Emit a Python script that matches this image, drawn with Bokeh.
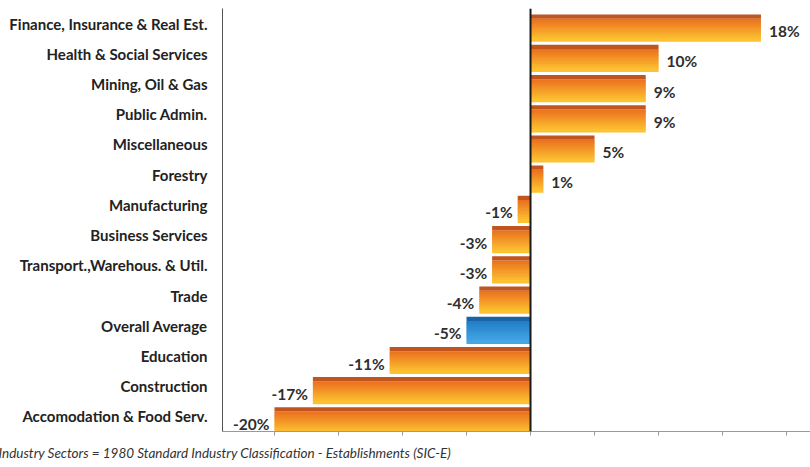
from bokeh.plotting import figure
from bokeh.models import ColumnDataSource, FactorRange, Span, Title, CustomJSTickFormatter, SingleIntervalTicker
from bokeh.transform import dodge
from bokeh.core.properties import value
from bokeh.embed import file_html
from bokeh.resources import INLINE

# ---- data ----
categories = [
    "Finance, Insurance & Real Est.",
    "Health & Social Services",
    "Mining, Oil & Gas",
    "Public Admin.",
    "Miscellaneous",
    "Forestry",
    "Manufacturing",
    "Business Services",
    "Transport.,Warehous. & Util.",
    "Trade",
    "Overall Average",
    "Education",
    "Construction",
    "Accomodation & Food Serv.",
]
changes = [18, 10, 9, 9, 5, 1, -1, -3, -3, -4, -5, -11, -17, -20]
highlight = "Overall Average"
footnote = "Industry Sectors = 1980 Standard Industry Classification - Establishments (SIC-E)"

# ---- styles ----
FONT = "Lato"
ORANGE_TOP = "#c0561d"
ORANGE_A = "#ea6f1e"
ORANGE_B = "#fcc231"
BLUE_TOP = "#1864a4"
BLUE_A = "#1f7cc6"
BLUE_B = "#45a7e6"


def lerp(c1, c2, t):
    a = [int(c1[i:i + 2], 16) for i in (1, 3, 5)]
    b = [int(c2[i:i + 2], 16) for i in (1, 3, 5)]
    return "#" + "".join(f"{round(x + (y - x) * t):02x}" for x, y in zip(a, b))


N_STRIPES = 10
TOPFACE_TOP, FRONT_TOP, FRONT_BOT = 0.30, 0.16, -0.60

data = dict(
    cat=categories,
    left=[min(v, 0) for v in changes],
    right=[max(v, 0) for v in changes],
    top_color=[BLUE_TOP if c == highlight else ORANGE_TOP for c in categories],
)
for i in range(N_STRIPES):
    t = i / (N_STRIPES - 1)
    data[f"c{i}"] = [lerp(BLUE_A, BLUE_B, t) if c == highlight else lerp(ORANGE_A, ORANGE_B, t)
                     for c in categories]
src = ColumnDataSource(data)

p = figure(
    width=810, height=467,
    y_range=FactorRange(factors=categories[::-1]),
    x_range=(-24.06, 21.87),
    output_backend="svg", toolbar_location=None,
    min_border_left=222, min_border_right=0, min_border_top=8, min_border_bottom=36,
)
p.outline_line_color = None
p.grid.visible = False
p.background_fill_color = "white"

# front face as a vertical gradient (overlapping stripes, drawn top to bottom)
sh = (FRONT_TOP - FRONT_BOT) / N_STRIPES
for i in range(N_STRIPES):
    bot = FRONT_TOP - sh * (i + 1)
    top = FRONT_TOP - sh * i + (0.5 * sh if i > 0 else 0)
    p.hbar(y=dodge("cat", (top + bot) / 2, range=p.y_range),
           left="left", right="right", height=top - bot,
           fill_color=f"c{i}", line_color=None, source=src)

# top face of the bars
p.hbar(y=dodge("cat", (TOPFACE_TOP + FRONT_TOP) / 2, range=p.y_range),
       left="left", right="right", height=TOPFACE_TOP - FRONT_TOP,
       fill_color="top_color", line_color=None, source=src)

# value labels
pos = [(c, v) for c, v in zip(categories, changes) if v >= 0]
neg = [(c, v) for c, v in zip(categories, changes) if v < 0]
pos_src = ColumnDataSource(dict(cat=[c for c, _ in pos], x=[v for _, v in pos],
                                lab=[f"{v}%" for _, v in pos]))
neg_src = ColumnDataSource(dict(cat=[c for c, _ in neg], x=[v for _, v in neg],
                                lab=[f"{v}%" for _, v in neg]))
p.text(x="x", y=dodge("cat", -0.25, range=p.y_range), text="lab", source=pos_src,
       text_align="left", text_baseline="middle", x_offset=8,
       text_font=value(FONT), text_font_style="bold", text_font_size="15.5px", text_color="#2e2e2e")
p.text(x="x", y=dodge("cat", -0.25, range=p.y_range), text="lab", source=neg_src,
       text_align="right", text_baseline="middle", x_offset=-5,
       text_font=value(FONT), text_font_style="bold", text_font_size="15.5px", text_color="#2e2e2e")

# zero line
p.add_layout(Span(location=0, dimension="height", line_color="#1a1a1a", line_width=2))

# axes
p.yaxis.major_tick_line_color = None
p.yaxis.minor_tick_line_color = None
p.yaxis.axis_line_color = "#555555"
p.yaxis.major_label_text_font = FONT
p.yaxis.major_label_text_font_style = "bold"
p.yaxis.major_label_text_font_size = "15px"
p.yaxis.major_label_text_color = "#222222"
p.yaxis.major_label_standoff = 9

p.xaxis.ticker = SingleIntervalTicker(interval=5)
p.xaxis.formatter = CustomJSTickFormatter(code="return ''")
p.xaxis.axis_line_color = "#999999"
p.xaxis.major_tick_line_color = "#999999"
p.xaxis.major_tick_in = 0
p.xaxis.major_tick_out = 4
p.xaxis.minor_tick_line_color = None
p.xaxis.major_label_text_font_size = "4px"
p.xaxis.major_label_standoff = 0

p.add_layout(Title(text=footnote, align="left", text_font=FONT, text_font_style="italic",
                   text_font_size="13.5px", text_color="#333333", offset=-224, standoff=14), "below")

open("out.html", "w").write(file_html(p, INLINE))
